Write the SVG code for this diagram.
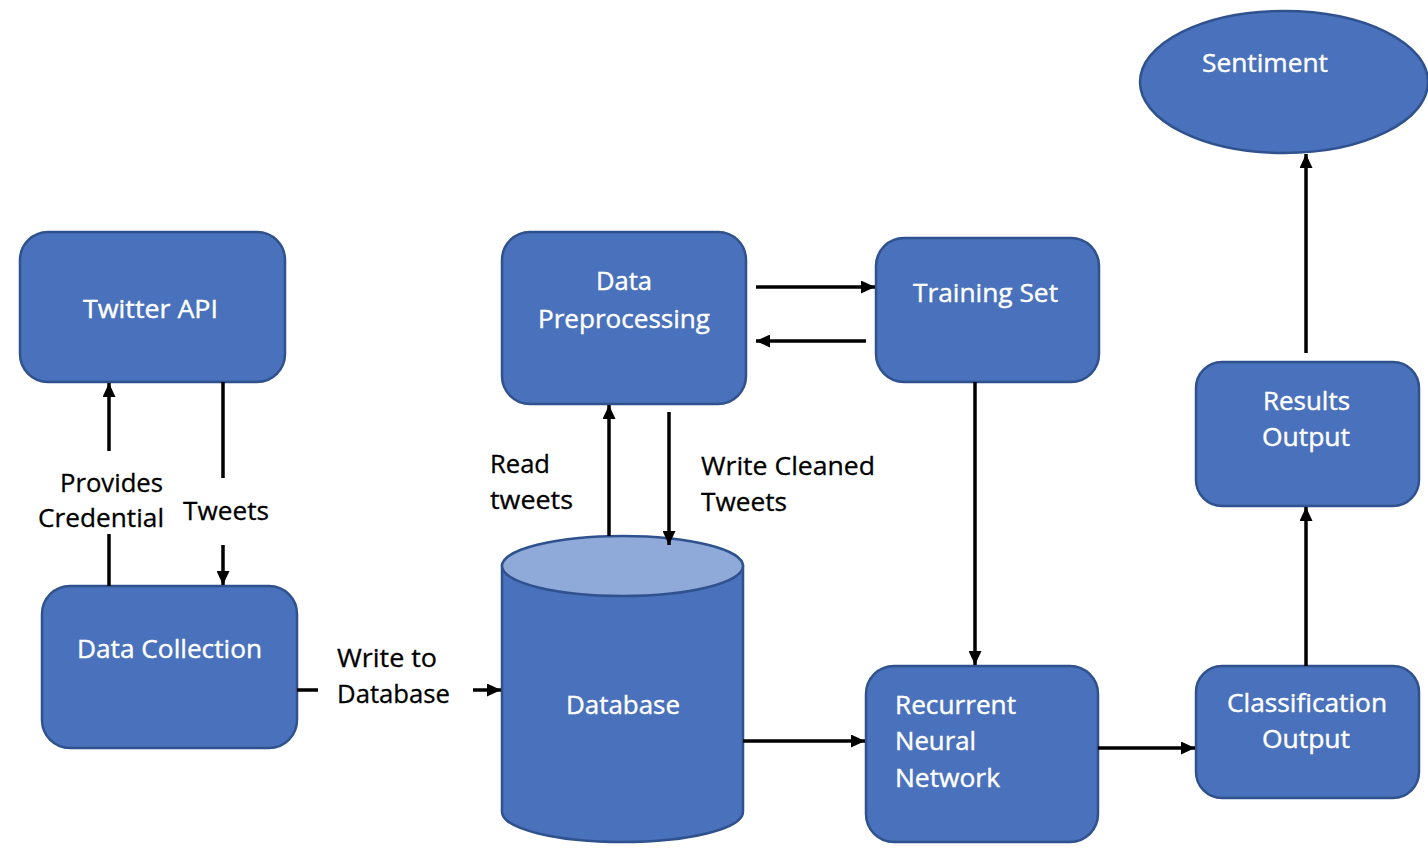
<svg xmlns="http://www.w3.org/2000/svg" width="1428" height="856" viewBox="0 0 1428 856">
<style>
.node{fill:#4a71bb;stroke:#2f528f;stroke-width:2.5}
.top{fill:#8fa9d9;stroke:#2f528f;stroke-width:2.5}
.nt{font-family:"Open Sans","Noto Sans",sans-serif;font-size:25px;fill:#ffffff;stroke:#ffffff;stroke-width:0.4}
.lb{font-family:"Open Sans","Noto Sans",sans-serif;font-size:25px;fill:#000000;stroke:#000000;stroke-width:0.3}
.c{stroke:#000;stroke-width:3.5;fill:none}
.ca{stroke:#000;stroke-width:3.5;fill:none;marker-end:url(#ah)}
</style>
<defs>
<marker id="ah" markerUnits="userSpaceOnUse" markerWidth="14" markerHeight="13" refX="14" refY="6.5" orient="auto">
<path d="M0,0 L14,6.5 L0,13 z" fill="#000"/>
</marker>
</defs>
<rect width="1428" height="856" fill="#ffffff"/>
<g id="twitter-api">
<rect class="node" x="20" y="232" width="265" height="150" rx="28"/>
<text class="nt" x="83" y="318" textLength="135" lengthAdjust="spacingAndGlyphs">Twitter API</text>
</g>
<g id="data-collection">
<rect class="node" x="42" y="586" width="255" height="162" rx="28"/>
<text class="nt" x="77" y="658" textLength="185" lengthAdjust="spacingAndGlyphs">Data Collection</text>
</g>
<g id="data-preprocessing">
<rect class="node" x="502" y="232" width="244" height="172" rx="28"/>
<text class="nt" x="596" y="290" textLength="56" lengthAdjust="spacingAndGlyphs">Data</text>
<text class="nt" x="538" y="328" textLength="172" lengthAdjust="spacingAndGlyphs">Preprocessing</text>
</g>
<g id="training-set">
<rect class="node" x="876" y="238" width="223" height="144" rx="28"/>
<text class="nt" x="913" y="302" textLength="145" lengthAdjust="spacingAndGlyphs">Training Set</text>
</g>
<g id="database">
<path class="node" d="M502,566 L502,812 A120.5,30 0 0 0 743,812 L743,566 Z"/>
<ellipse class="top" cx="622.5" cy="566" rx="120.5" ry="30"/>
<text class="nt" x="566" y="714" textLength="114" lengthAdjust="spacingAndGlyphs">Database</text>
</g>
<g id="rnn">
<rect class="node" x="866" y="666" width="232" height="176" rx="28"/>
<text class="nt" x="895" y="714" textLength="121" lengthAdjust="spacingAndGlyphs">Recurrent</text>
<text class="nt" x="895" y="750" textLength="81" lengthAdjust="spacingAndGlyphs">Neural</text>
<text class="nt" x="895" y="787" textLength="105" lengthAdjust="spacingAndGlyphs">Network</text>
</g>
<g id="classification-output">
<rect class="node" x="1196" y="666" width="223" height="132" rx="26"/>
<text class="nt" x="1227" y="712" textLength="160" lengthAdjust="spacingAndGlyphs">Classification</text>
<text class="nt" x="1262" y="748" textLength="88" lengthAdjust="spacingAndGlyphs">Output</text>
</g>
<g id="results-output">
<rect class="node" x="1196" y="362" width="223" height="144" rx="26"/>
<text class="nt" x="1263" y="410" textLength="87" lengthAdjust="spacingAndGlyphs">Results</text>
<text class="nt" x="1262" y="446" textLength="88" lengthAdjust="spacingAndGlyphs">Output</text>
</g>
<g id="sentiment">
<ellipse class="node" cx="1284" cy="82" rx="144" ry="71"/>
<text class="nt" x="1202" y="72" textLength="126" lengthAdjust="spacingAndGlyphs">Sentiment</text>
</g>
<g id="connectors">
<line class="c" x1="109" y1="586" x2="109" y2="534"/>
<line class="ca" x1="109" y1="451" x2="109" y2="383"/>
<line class="c" x1="223" y1="382" x2="223" y2="478"/>
<line class="ca" x1="223" y1="545" x2="223" y2="585"/>
<line class="c" x1="297" y1="690" x2="318" y2="690"/>
<line class="ca" x1="473" y1="690" x2="501" y2="690"/>
<line class="ca" x1="609" y1="536" x2="609" y2="405"/>
<line class="ca" x1="669" y1="412" x2="669" y2="545"/>
<line class="ca" x1="756" y1="287" x2="875" y2="287"/>
<line class="ca" x1="866" y1="341" x2="756" y2="341"/>
<line class="ca" x1="975" y1="382" x2="975" y2="665"/>
<line class="ca" x1="743" y1="741" x2="865" y2="741"/>
<line class="ca" x1="1098" y1="748" x2="1195" y2="748"/>
<line class="ca" x1="1306" y1="666" x2="1306" y2="507"/>
<line class="ca" x1="1306" y1="353" x2="1306" y2="154"/>
</g>
<g id="labels">
<text class="lb" x="60" y="492" textLength="103" lengthAdjust="spacingAndGlyphs">Provides</text>
<text class="lb" x="38" y="527" textLength="126" lengthAdjust="spacingAndGlyphs">Credential</text>
<text class="lb" x="183" y="520" textLength="86" lengthAdjust="spacingAndGlyphs">Tweets</text>
<text class="lb" x="337" y="667" textLength="100" lengthAdjust="spacingAndGlyphs">Write to</text>
<text class="lb" x="337" y="703" textLength="113" lengthAdjust="spacingAndGlyphs">Database</text>
<text class="lb" x="490" y="473" textLength="60" lengthAdjust="spacingAndGlyphs">Read</text>
<text class="lb" x="490" y="509" textLength="83" lengthAdjust="spacingAndGlyphs">tweets</text>
<text class="lb" x="701" y="475" textLength="174" lengthAdjust="spacingAndGlyphs">Write Cleaned</text>
<text class="lb" x="701" y="511" textLength="86" lengthAdjust="spacingAndGlyphs">Tweets</text>
</g>
</svg>
